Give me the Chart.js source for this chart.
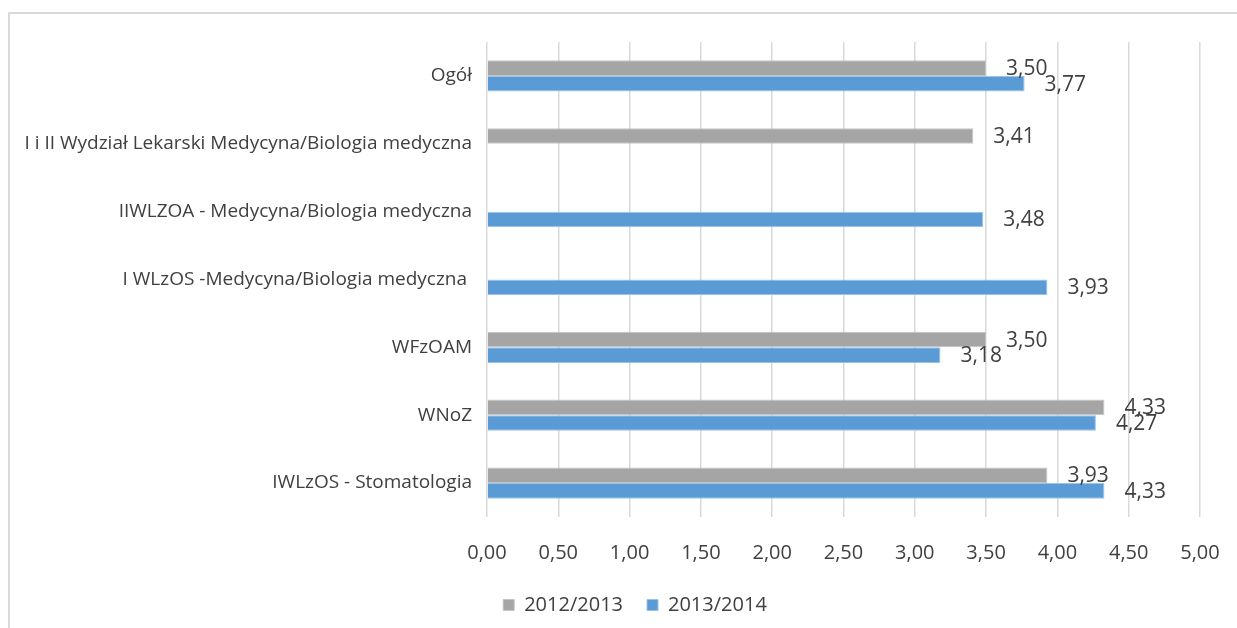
<!DOCTYPE html>
<html>
<head>
<meta charset="utf-8">
<script src="https://cdn.jsdelivr.net/npm/chart.js@4"></script>
<style>
  html, body { margin: 0; padding: 0; background: #fff; overflow: hidden; width: 1237px; height: 628px; }
  #box { position: absolute; left: 8px; top: 12px; width: 1252px; height: 640px; border-top: 2px solid #d9d9d9; border-left: 2px solid #d9d9d9; box-sizing: border-box; }
  #c { position: absolute; left: 10px; top: 14px; }
</style>
</head>
<body>
<div id="box"></div>
<canvas id="c" width="1250" height="611"></canvas>
<script>
const categories = [
  "Ogół",
  "I i II Wydział Lekarski Medycyna/Biologia medyczna",
  "IIWLZOA - Medycyna/Biologia medyczna",
  "I WLzOS -Medycyna/Biologia medyczna ",
  "WFzOAM",
  "WNoZ",
  "IWLzOS - Stomatologia"
];
const series2012 = [3.50, 3.41, null, null, 3.50, 4.33, 3.93];
const series2013 = [3.77, null, 3.48, 3.93, 3.18, 4.27, 4.33];
const seriesNames = ["2012/2013", "2013/2014"];
const xMin = 0, xMax = 5, xStep = 0.5;

const FONT = "'Open Sans', 'Liberation Sans', sans-serif";
const TXT = "#404040";
const fmt = v => v.toFixed(2).replace('.', ',');

const labelPlugin = {
  id: 'valueLabels',
  afterLayout(chart) {
    // centre the legend on the whole chart frame (which extends past the right edge)
    if (chart.legend) { chart.legend.left += 30; chart.legend.right += 30; }
  },
  afterDatasetsDraw(chart) {
    const ctx = chart.ctx;
    ctx.save();
    ctx.font = "21px " + FONT;
    ctx.fillStyle = TXT;
    ctx.textAlign = 'left';
    ctx.textBaseline = 'middle';
    chart.data.datasets.forEach((ds, i) => {
      const meta = chart.getDatasetMeta(i);
      meta.data.forEach((el, j) => {
        const v = ds.data[j];
        if (v === null || v === undefined) return;
        ctx.fillText(fmt(v), el.x + 20, el.y + 1);
      });
    });
    ctx.restore();
  }
};

new Chart(document.getElementById('c'), {
  type: 'bar',
  data: {
    labels: categories,
    datasets: [
      { label: seriesNames[0], data: series2012, backgroundColor: '#a5a5a5', borderColor: '#c4c4c4', borderWidth: 1, categoryPercentage: 0.46, barPercentage: 1 },
      { label: seriesNames[1], data: series2013, backgroundColor: '#5b9bd5', borderColor: '#9cc2e8', borderWidth: 1, categoryPercentage: 0.46, barPercentage: 1 }
    ]
  },
  options: {
    indexAxis: 'y',
    responsive: false,
    animation: false,
    layout: { padding: { top: 28, right: 60, left: 0, bottom: 0 } },
    scales: {
      x: {
        min: xMin, max: xMax,
        grid: { color: '#d9d9d9', lineWidth: 1.5, drawTicks: false },
        border: { display: false },
        ticks: { stepSize: xStep, padding: 24, color: TXT, font: { family: FONT, size: 20 }, callback: v => fmt(v) },
        afterFit: s => { s.height = 54; }
      },
      y: {
        grid: { display: false },
        border: { display: false },
        ticks: { padding: 7, color: TXT, font: { family: FONT, size: 19 } },
        afterFit: s => { s.width = 477; }
      }
    },
    plugins: {
      legend: {
        position: 'bottom',
        labels: { boxWidth: 11, boxHeight: 11, padding: 24, color: TXT, font: { family: FONT, size: 20 } }
      },
      tooltip: { enabled: false }
    }
  },
  plugins: [labelPlugin]
});
</script>
</body>
</html>
